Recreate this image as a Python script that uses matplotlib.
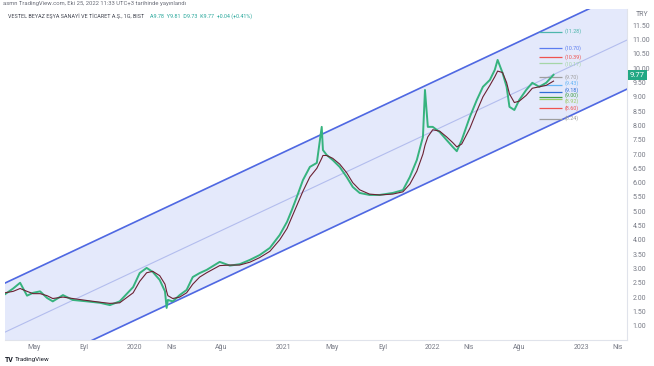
import matplotlib
matplotlib.use("Agg")
import matplotlib.pyplot as plt
import pandas as pd

plt.rcParams['font.family'] = ['Roboto', 'DejaVu Sans']

dates = pd.to_datetime([
    "2019-02-19", "2019-03-11", "2019-03-28", "2019-04-14", "2019-04-29", "2019-05-16",
    "2019-06-02", "2019-06-16", "2019-07-11", "2019-08-04", "2019-09-08", "2019-10-10",
    "2019-11-03", "2019-11-27", "2019-12-30", "2020-01-15", "2020-02-01", "2020-02-16",
    "2020-03-04", "2020-03-17", "2020-03-21", "2020-03-24", "2020-04-05", "2020-04-22",
    "2020-05-09", "2020-05-24", "2020-06-10", "2020-06-27", "2020-07-29", "2020-08-23",
    "2020-09-16", "2020-10-11", "2020-11-04", "2020-11-29", "2020-12-23", "2021-01-10",
    "2021-01-22", "2021-02-03", "2021-02-18", "2021-03-07", "2021-03-24", "2021-04-05",
    "2021-04-08", "2021-04-17", "2021-05-02", "2021-05-19", "2021-06-05", "2021-06-20",
    "2021-07-07", "2021-07-31", "2021-08-25", "2021-09-26", "2021-10-21", "2021-11-07",
    "2021-11-24", "2021-12-09", "2021-12-14", "2021-12-21", "2022-01-02", "2022-01-19",
    "2022-02-05", "2022-02-20", "2022-03-02", "2022-03-14", "2022-04-03", "2022-04-20",
    "2022-05-05", "2022-05-22", "2022-06-03", "2022-06-10", "2022-06-22", "2022-07-02",
    "2022-07-09", "2022-07-21", "2022-08-02", "2022-08-19", "2022-09-03", "2022-09-20",
    "2022-10-07", "2022-10-25"])
close = [2.10, 2.30, 2.50, 2.05, 2.15, 2.20, 1.97, 1.85, 2.07, 1.90, 1.85, 1.80,
         1.72, 1.85, 2.35, 2.84, 3.02, 2.88, 2.60, 2.20, 1.62, 1.90, 1.85, 2.07,
         2.25, 2.70, 2.84, 2.95, 3.23, 3.10, 3.15, 3.30, 3.47, 3.72, 4.17, 4.63,
         5.05, 5.50, 6.09, 6.55, 6.69, 7.95, 7.14, 6.97, 6.79, 6.55, 6.20, 5.85,
         5.64, 5.57, 5.57, 5.64, 5.74, 6.20, 6.79, 7.60, 9.24, 7.95, 7.95, 7.77,
         7.49, 7.25, 7.10, 7.49, 8.30, 8.89, 9.35, 9.59, 9.94, 10.29, 9.84, 9.35,
         8.65, 8.54, 8.89, 9.24, 9.49, 9.35, 9.49, 9.77]
ma = [2.15, 2.20, 2.30, 2.20, 2.12, 2.12, 2.05, 1.95, 2.00, 1.95, 1.88, 1.82,
      1.78, 1.80, 2.15, 2.55, 2.85, 2.90, 2.75, 2.45, 2.20, 2.05, 1.95, 2.00,
      2.15, 2.45, 2.70, 2.85, 3.10, 3.12, 3.12, 3.22, 3.38, 3.60, 4.00, 4.40,
      4.80, 5.20, 5.70, 6.20, 6.50, 6.85, 6.95, 6.95, 6.85, 6.65, 6.35, 6.00,
      5.75, 5.60, 5.57, 5.60, 5.68, 5.95, 6.40, 7.00, 7.30, 7.60, 7.85, 7.80,
      7.60, 7.40, 7.25, 7.35, 7.90, 8.50, 9.00, 9.40, 9.70, 9.90, 9.85, 9.50,
      9.10, 8.80, 8.85, 9.05, 9.30, 9.35, 9.40, 9.55]

# regression channel end points
chan_dates = pd.to_datetime(["2019-02-19", "2023-04-23"])
chan_mid = [0.775, 10.985]
chan_half = 1.715

# horizontal levels at the right
levels = [11.28, 10.70, 10.39, 10.17, 9.70, 9.43, 9.18, 9.00, 8.92, 8.60, 8.24]
level_colors = ['#4db6ac', '#5b7cf0', '#ef5350', '#a5d6a7', '#9e9e9e', '#64b5f6',
                '#2f6fd6', '#43a047', '#9ccc65', '#ef5350', '#9e9e9e']
label_nudge = [0, 0, 0, -0.3, 0, 0.8, 1.2, 0.9, -1.6, 0, 0]

tick_dates = pd.to_datetime(["2019-05-01", "2019-09-01", "2020-01-01", "2020-04-01",
                             "2020-08-01", "2021-01-01", "2021-05-01", "2021-09-01",
                             "2022-01-01", "2022-04-01", "2022-08-01", "2023-01-01",
                             "2023-04-01"])
tick_labels = ["May", "Eyl", "2020", "Nis", "Ağu", "2021", "May", "Eyl",
               "2022", "Nis", "Ağu", "2023", "Nis"]

fig = plt.figure(figsize=(6.54, 3.66), dpi=100)
ax = fig.add_axes([5 / 654, 1 - 340 / 366, 622 / 654, 331 / 366])

upper = [m + chan_half for m in chan_mid]
lower = [m - chan_half for m in chan_mid]
ax.fill_between(chan_dates, lower, upper, color='#e4e9fb', zorder=0)
ax.plot(chan_dates, upper, color='#4f68e2', lw=1.2, zorder=1)
ax.plot(chan_dates, lower, color='#4f68e2', lw=1.2, zorder=1)
ax.plot(chan_dates, chan_mid, color='#b3bdee', lw=0.8, zorder=1)

ax.plot(dates, close, color='#36b37e', lw=1.4, zorder=3)
ax.plot(dates, ma, color='#6b2233', lw=0.8, zorder=4)

x0 = pd.Timestamp("2022-09-20")
x1 = pd.Timestamp("2022-11-14")
xt = pd.Timestamp("2022-11-20")
for lv, c, nd in zip(levels, level_colors, label_nudge):
    ax.hlines(lv, x0, x1, color=c, lw=0.9, zorder=2)
    ax.annotate("(%.2f)" % lv, xy=(xt, lv), xytext=(0, nd), textcoords='offset points',
                color=c, fontsize=3.9, va='center', ha='left')

ax.set_xlim(chan_dates[0], chan_dates[1])
ax.set_ylim(0.5, 12.07)
ax.set_xticks(tick_dates)
ax.set_xticklabels(tick_labels)
ax.set_yticks([1 + 0.5 * i for i in range(22)])
ax.yaxis.set_major_formatter(plt.FuncFormatter(lambda v, p: "%.2f" % v))
ax.yaxis.tick_right()
ax.tick_params(axis='both', length=0, labelsize=5, colors='#787b86', pad=4)
ax.tick_params(axis='x', pad=3)
for s in ['top', 'left']:
    ax.spines[s].set_visible(False)
for s in ['right', 'bottom']:
    ax.spines[s].set_color('#e0e3eb')
    ax.spines[s].set_linewidth(0.8)

ax.annotate("%.2f" % close[-1], xy=(1.0, close[-1]), xycoords=('axes fraction', 'data'),
            xytext=(2, 0), textcoords='offset points', color='white', fontsize=5.5,
            va='center', ha='left',
            bbox=dict(boxstyle='square,pad=0.25', fc='#22a884', ec='none'))

fig.text(636 / 654, 1 - 15 / 366, "TRY", fontsize=5, color='#787b86', va='center')
fig.text(3 / 654, 1 - 4 / 366, "asmn TradingView.com, Eki 25, 2022 11:33 UTC+3 tarihinde yayınlandı",
         fontsize=4.2, color='#6a6d78', va='center')
fig.text(8 / 654, 1 - 16 / 366, "VESTEL BEYAZ EŞYA SANAYİ VE TİCARET A.Ş., 1G, BIST",
         fontsize=3.9, color='#434651', va='center')
fig.text(150 / 654, 1 - 16 / 366, "A9.78  Y9.81  D9.73  K9.77  +0.04 (+0.41%)",
         fontsize=3.9, color='#26a69a', va='center')
fig.text(5 / 654, 1 - 360 / 366, "TV", fontsize=5, weight='bold', color='#131722', va='center')
fig.text(15 / 654, 1 - 360 / 366, "TradingView", fontsize=4.5, color='#131722', va='center')

fig.savefig("out.png", dpi=100)
